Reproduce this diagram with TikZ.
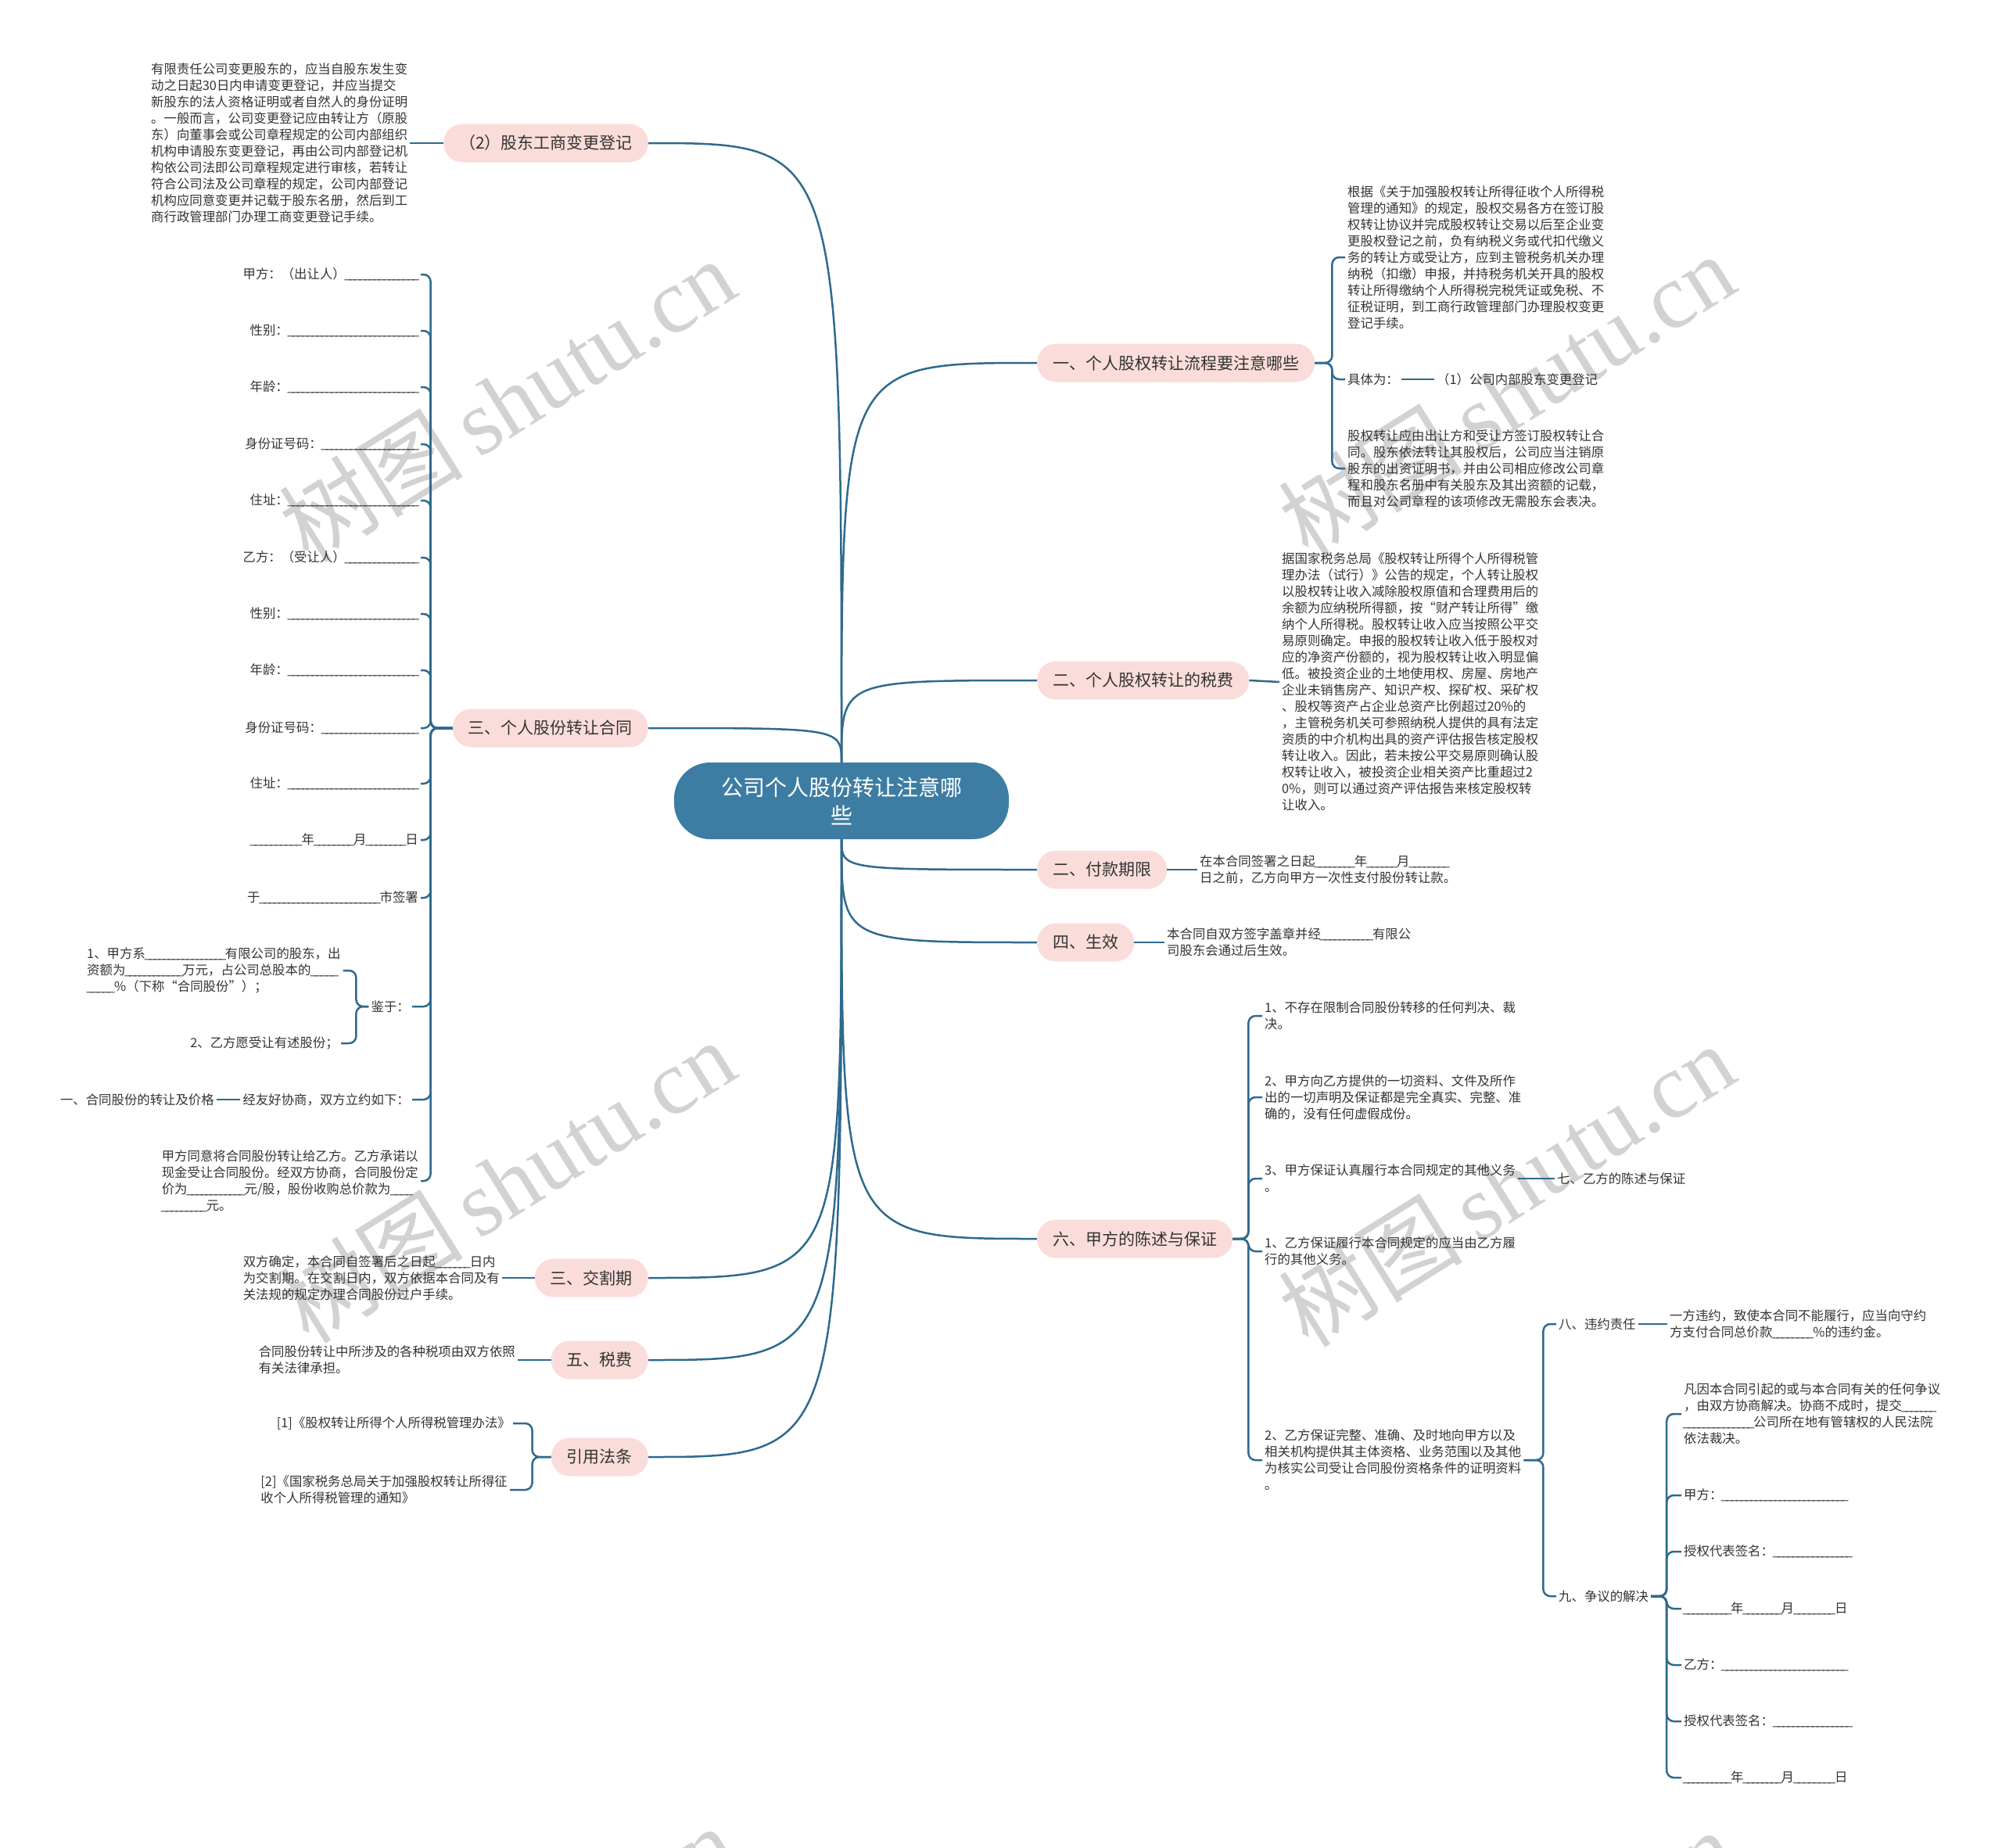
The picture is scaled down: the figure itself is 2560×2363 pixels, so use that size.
\documentclass[tikz,border=0pt]{standalone}
\usepackage{fontspec}
\setmainfont{Noto Sans CJK SC}
\newfontfamily\wmfont{Liberation Serif}
\usepackage{tikz}
\usetikzlibrary{positioning,calc,backgrounds}
\definecolor{lan}{RGB}{46,106,142}
\definecolor{genlan}{RGB}{62,125,163}
\definecolor{fen}{RGB}{250,221,219}
\definecolor{zi}{RGB}{51,51,51}
\definecolor{shuiyin}{RGB}{210,210,210}
\newcommand{\tiankong}[1]{\hbox to #1pt{\xleaders\hbox to 6pt{\hss\_\hss}\hfill}}
\tikzset{
  gen/.style={fill=genlan,text=white,rounded corners=46pt,minimum width=428pt,minimum height=98pt,align=center,font=\fontsize{28}{36}\selectfont},
  zhu/.style={fill=fen,text=zi,rounded corners=24pt,minimum height=49pt,inner xsep=20pt,font=\fontsize{21}{25}\selectfont},
  wen/.style={text=zi,align=left,inner xsep=3pt,inner ysep=2pt,font=\fontsize{16.4}{21}\selectfont},
  lian/.style={draw=lan,line width=2.5pt},
  kuo/.style={lian,rounded corners=9pt},
  shui/.style={text=shuiyin,rotate=32,font=\fontsize{118}{118}\selectfont},
}

\begin{document}
\begin{tikzpicture}[x=1pt,y=-1pt]
  \useasboundingbox (0,0) rectangle (2560,2363);
  \node[gen] (gen) at (1076,1024) {公司个人股份转让注意哪\\些};

  \node[zhu,anchor=east] (z1) at (829,183) {（2）股东工商变更登记};
  \node[zhu,anchor=east] (z2) at (829,931) {三、个人股份转让合同};
  \node[zhu,anchor=east] (z3) at (829,1634) {三、交割期};
  \node[zhu,anchor=east] (z4) at (829,1739) {五、税费};
  \node[zhu,anchor=east] (z5) at (829,1863) {引用法条};
  \node[zhu,anchor=west] (y1) at (1326,464) {一、个人股权转让流程要注意哪些};
  \node[zhu,anchor=west] (y2) at (1326,870) {二、个人股权转让的税费};
  \node[zhu,anchor=west] (y3) at (1326,1112) {二、付款期限};
  \node[zhu,anchor=west] (y4) at (1326,1205) {四、生效};
  \node[zhu,anchor=west] (y5) at (1326,1584) {六、甲方的陈述与保证};

  % left side
  \node[wen,anchor=west] (t1) at (190,183) {有限责任公司变更股东的，应当自股东发生变\\动之日起30日内申请变更登记，并应当提交\\新股东的法人资格证明或者自然人的身份证明\\。一般而言，公司变更登记应由转让方（原股\\东）向董事会或公司章程规定的公司内部组织\\机构申请股东变更登记，再由公司内部登记机\\构依公司法即公司章程规定进行审核，若转让\\符合公司法及公司章程的规定，公司内部登记\\机构应同意变更并记载于股东名册，然后到工\\商行政管理部门办理工商变更登记手续。};
  \draw[lian] (z1.west) -- (t1.east);

  \foreach \n/\y/\t in {
    1/351/{甲方：（出让人）\tiankong{93}},
    2/423/{性别：\tiankong{166}},
    3/495/{年龄：\tiankong{166}},
    4/568/{身份证号码：\tiankong{123}},
    5/640/{住址：\tiankong{166}},
    6/713/{乙方：（受让人）\tiankong{93}},
    7/785/{性别：\tiankong{166}},
    8/857/{年龄：\tiankong{166}},
    9/931/{身份证号码：\tiankong{123}},
    10/1002/{住址：\tiankong{166}},
    11/1074/{\tiankong{65}年\tiankong{50}月\tiankong{50}日},
    12/1148/{于\tiankong{153}市签署}}{
    \node[wen,anchor=east] (f\n) at (538,\y) {\t};
    \draw[kuo] (z2.west) -- ++(-28,0) |- (f\n.east);
  }
  \node[wen,anchor=east] (jy) at (527,1287) {鉴于：};
  \node[wen,anchor=west] (jy1) at (108,1241) {1、甲方系\tiankong{102}有限公司的股东，出\\资额为\tiankong{73}万元，占公司总股本的\tiankong{35}\\\tiankong{35}\%（下称“合同股份”）；};
  \node[wen,anchor=east] (jy2) at (436,1334) {2、乙方愿受让有述股份；};
  \node[wen,anchor=east] (xs) at (527,1406) {经友好协商，双方立约如下：};
  \node[wen,anchor=east] (xs1) at (277,1406) {一、合同股份的转让及价格};
  \node[wen,anchor=east] (jg) at (538,1510) {甲方同意将合同股份转让给乙方。乙方承诺以\\现金受让合同股份。经双方协商，合同股份定\\价为\tiankong{73}元/股，股份收购总价款为\tiankong{28}\\\tiankong{57}元。};
  \foreach \c in {jy,xs,jg}
    \draw[kuo] (z2.west) -- ++(-28,0) |- (\c.east);
  \draw[kuo] (jy.west) -- ++(-16,0) |- (jy1.east);
  \draw[kuo] (jy.west) -- ++(-16,0) |- (jy2.east);
  \draw[lian] (xs.west) -- (xs1.east);

  \node[wen,anchor=east] (jg3) at (642,1634) {双方确定，本合同自签署后之日起\tiankong{44}日内\\为交割期。在交割日内，双方依据本合同及有\\关法规的规定办理合同股份过户手续。};
  \draw[lian] (z3.west) -- (jg3.east);
  \node[wen,anchor=east] (sf) at (662,1739) {合同股份转让中所涉及的各种税项由双方依照\\有关法律承担。};
  \draw[lian] (z4.west) -- (sf.east);
  \node[wen,anchor=east] (fa1) at (656,1820) {[1]《股权转让所得个人所得税管理办法》};
  \node[wen,anchor=east] (fa2) at (652,1905) {[2]《国家税务总局关于加强股权转让所得征\\收个人所得税管理的通知》};
  \draw[kuo] (z5.west) -- ++(-24,0) |- (fa1.east);
  \draw[kuo] (z5.west) -- ++(-24,0) |- (fa2.east);

  % right side
  \node[wen,anchor=west] (a1) at (1720,329) {根据《关于加强股权转让所得征收个人所得税\\管理的通知》的规定，股权交易各方在签订股\\权转让协议并完成股权转让交易以后至企业变\\更股权登记之前，负有纳税义务或代扣代缴义\\务的转让方或受让方，应到主管税务机关办理\\纳税（扣缴）申报，并持税务机关开具的股权\\转让所得缴纳个人所得税完税凭证或免税、不\\征税证明，到工商行政管理部门办理股权变更\\登记手续。};
  \node[wen,anchor=west] (a2) at (1720,485) {具体为：};
  \node[wen,anchor=west] (a3) at (1834,485) {（1）公司内部股东变更登记};
  \node[wen,anchor=west] (a4) at (1720,599) {股权转让应由出让方和受让方签订股权转让合\\同。股东依法转让其股权后，公司应当注销原\\股东的出资证明书，并由公司相应修改公司章\\程和股东名册中有关股东及其出资额的记载，\\而且对公司章程的该项修改无需股东会表决。};
  \foreach \c in {a1,a2,a4}
    \draw[kuo] (y1.east) -- ++(22,0) |- (\c.west);
  \draw[lian] (a2.east) -- (a3.west);

  \node[wen,anchor=west] (b1) at (1636,872) {据国家税务总局《股权转让所得个人所得税管\\理办法（试行）》公告的规定，个人转让股权\\以股权转让收入减除股权原值和合理费用后的\\余额为应纳税所得额，按“财产转让所得”缴\\纳个人所得税。股权转让收入应当按照公平交\\易原则确定。申报的股权转让收入低于股权对\\应的净资产份额的，视为股权转让收入明显偏\\低。被投资企业的土地使用权、房屋、房地产\\企业未销售房产、知识产权、探矿权、采矿权\\、股权等资产占企业总资产比例超过20\%的\\，主管税务机关可参照纳税人提供的具有法定\\资质的中介机构出具的资产评估报告核定股权\\转让收入。因此，若未按公平交易原则确认股\\权转让收入，被投资企业相关资产比重超过2\\0\%，则可以通过资产评估报告来核定股权转\\让收入。};
  \draw[lian] (y2.east) -- (b1.west);
  \node[wen,anchor=west] (c1) at (1531,1112) {在本合同签署之日起\tiankong{50}年\tiankong{38}月\tiankong{50}\\日之前，乙方向甲方一次性支付股份转让款。};
  \draw[lian] (y3.east) -- (c1.west);
  \node[wen,anchor=west] (d1) at (1489,1205) {本合同自双方签字盖章并经\tiankong{66}有限公\\司股东会通过后生效。};
  \draw[lian] (y4.east) -- (d1.west);

  \node[wen,anchor=west] (e1) at (1614,1299) {1、不存在限制合同股份转移的任何判决、裁\\决。};
  \node[wen,anchor=west] (e2) at (1614,1403) {2、甲方向乙方提供的一切资料、文件及所作\\出的一切声明及保证都是完全真实、完整、准\\确的，没有任何虚假成份。};
  \node[wen,anchor=west] (e3) at (1614,1507) {3、甲方保证认真履行本合同规定的其他义务\\。};
  \node[wen,anchor=west] (e4) at (1614,1600) {1、乙方保证履行本合同规定的应当由乙方履\\行的其他义务。};
  \node[wen,anchor=west] (e5) at (1614,1867) {2、乙方保证完整、准确、及时地向甲方以及\\相关机构提供其主体资格、业务范围以及其他\\为核实公司受让合同股份资格条件的证明资料\\。};
  \foreach \c in {e1,e2,e3,e4,e5}
    \draw[kuo] (y5.east) -- ++(20,0) |- (\c.west);
  \node[wen,anchor=west] (qi) at (1988,1507) {七、乙方的陈述与保证};
  \draw[lian] (e3.east) -- (qi.west);

  \node[wen,anchor=west] (ba) at (1990,1693) {八、违约责任};
  \node[wen,anchor=west] (jiu) at (1990,2041) {九、争议的解决};
  \draw[kuo] (e5.east) -- ++(25,0) |- (ba.west);
  \draw[kuo] (e5.east) -- ++(25,0) |- (jiu.west);
  \node[wen,anchor=west] (bt) at (2132,1693) {一方违约，致使本合同不能履行，应当向守约\\方支付合同总价款\tiankong{52}\%的违约金。};
  \draw[lian] (ba.east) -- (bt.west);

  \node[wen,anchor=west] (k1) at (2150,1808) {凡因本合同引起的或与本合同有关的任何争议\\，由双方协商解决。协商不成时，提交\tiankong{43}\\\tiankong{89}公司所在地有管辖权的人民法院\\依法裁决。};
  \foreach \n/\y/\t in {
    2/1912/{甲方：\tiankong{160}},
    3/1984/{授权代表签名：\tiankong{100}},
    4/2057/{\tiankong{60}年\tiankong{48}月\tiankong{52}日},
    5/2129/{乙方：\tiankong{160}},
    6/2201/{授权代表签名：\tiankong{100}},
    7/2273/{\tiankong{60}年\tiankong{48}月\tiankong{52}日}}
    \node[wen,anchor=west] (k\n) at (2150,\y) {\t};
  \foreach \c in {k1,k2,k3,k4,k5,k6,k7}
    \draw[kuo] (jiu.east) -- ++(20,0) |- (\c.west);

  \begin{scope}[on background layer]
    \foreach \n/\x/\y in {1/648/511, 2/1926/505, 3/648/1510, 4/1926/1515, 5/648/2515, 6/1926/2520}
      \node[shui] (w\n) at (\x,\y) {树图\,{\wmfont shutu.cn}};
    \foreach \z in {z1,z2,z3,z4,z5}
      \draw[lian] (gen) .. controls (gen |- \z.east) .. (\z.east);
    \foreach \z in {y1,y2,y3,y4,y5}
      \draw[lian] (gen) .. controls (gen |- \z.west) .. (\z.west);
  \end{scope}
\end{tikzpicture}
\end{document}
